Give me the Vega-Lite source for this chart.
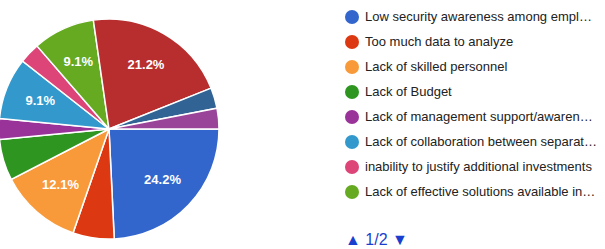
{
  "$schema": "https://vega.github.io/schema/vega-lite/v6.json",
  "width": 218,
  "height": 258,
  "padding": {"left": 0, "top": 0, "right": 387, "bottom": 0},
  "autosize": {"type": "none"},
  "background": "white",
  "config": {"view": {"stroke": null}, "font": "Liberation Sans"},
  "data": {
    "values": [
      {"order": 1, "reason": "Low security awareness among employees", "count": 8, "label": "24.2%"},
      {"order": 2, "reason": "Too much data to analyze", "count": 2, "label": ""},
      {"order": 3, "reason": "Lack of skilled personnel", "count": 4, "label": "12.1%"},
      {"order": 4, "reason": "Lack of Budget", "count": 2, "label": ""},
      {"order": 5, "reason": "Lack of management support/awareness", "count": 1, "label": ""},
      {"order": 6, "reason": "Lack of collaboration between separate departments", "count": 3, "label": "9.1%"},
      {"order": 7, "reason": "inability to justify additional investments", "count": 1, "label": ""},
      {"order": 8, "reason": "Lack of effective solutions available in the market", "count": 3, "label": "9.1%"},
      {"order": 9, "reason": "Too many false positives", "count": 7, "label": "21.2%"},
      {"order": 10, "reason": "Lack of contextual information", "count": 1, "label": ""},
      {"order": 11, "reason": "Other", "count": 1, "label": ""}
    ]
  },
  "encoding": {
    "theta": {"field": "count", "type": "quantitative", "stack": true, "scale": {"range": [1.5708, 7.8540]}},
    "order": {"field": "order", "type": "quantitative"}
  },
  "layer": [
    {
      "mark": {"type": "arc", "outerRadius": 110, "stroke": "white", "strokeWidth": 1.5},
      "encoding": {
        "color": {
          "field": "reason",
          "type": "nominal",
          "sort": null,
          "scale": {
            "domain": ["Low security awareness among employees", "Too much data to analyze", "Lack of skilled personnel", "Lack of Budget", "Lack of management support/awareness", "Lack of collaboration between separate departments", "inability to justify additional investments", "Lack of effective solutions available in the market", "Too many false positives", "Lack of contextual information", "Other"],
            "range": ["#3366cc", "#dc3912", "#f89a3a", "#2e9620", "#993399", "#3399cc", "#dd4477", "#66aa22", "#b82e2e", "#316395", "#994499"]
          },
          "legend": {
            "orient": "none",
            "legendX": 345,
            "legendY": 10,
            "values": ["Low security awareness among employees", "Too much data to analyze", "Lack of skilled personnel", "Lack of Budget", "Lack of management support/awareness", "Lack of collaboration between separate departments", "inability to justify additional investments", "Lack of effective solutions available in the market"],
            "title": "▲ 1/2 ▼",
            "titleOrient": "bottom",
            "titleAnchor": "start",
            "titleColor": "#1a3fcf",
            "titleFontSize": 16,
            "titleFontWeight": "normal",
            "titlePadding": 33,
            "symbolType": "circle",
            "symbolSize": 196,
            "symbolStrokeWidth": 0,
            "labelFontSize": 13,
            "labelColor": "#222222",
            "labelLimit": 232,
            "labelOffset": 6,
            "rowPadding": 11
          }
        }
      }
    },
    {
      "mark": {"type": "text", "radius": 74, "fill": "white", "fontSize": 13, "fontWeight": "bold"},
      "encoding": {"text": {"field": "label", "type": "nominal"}}
    }
  ]
}
